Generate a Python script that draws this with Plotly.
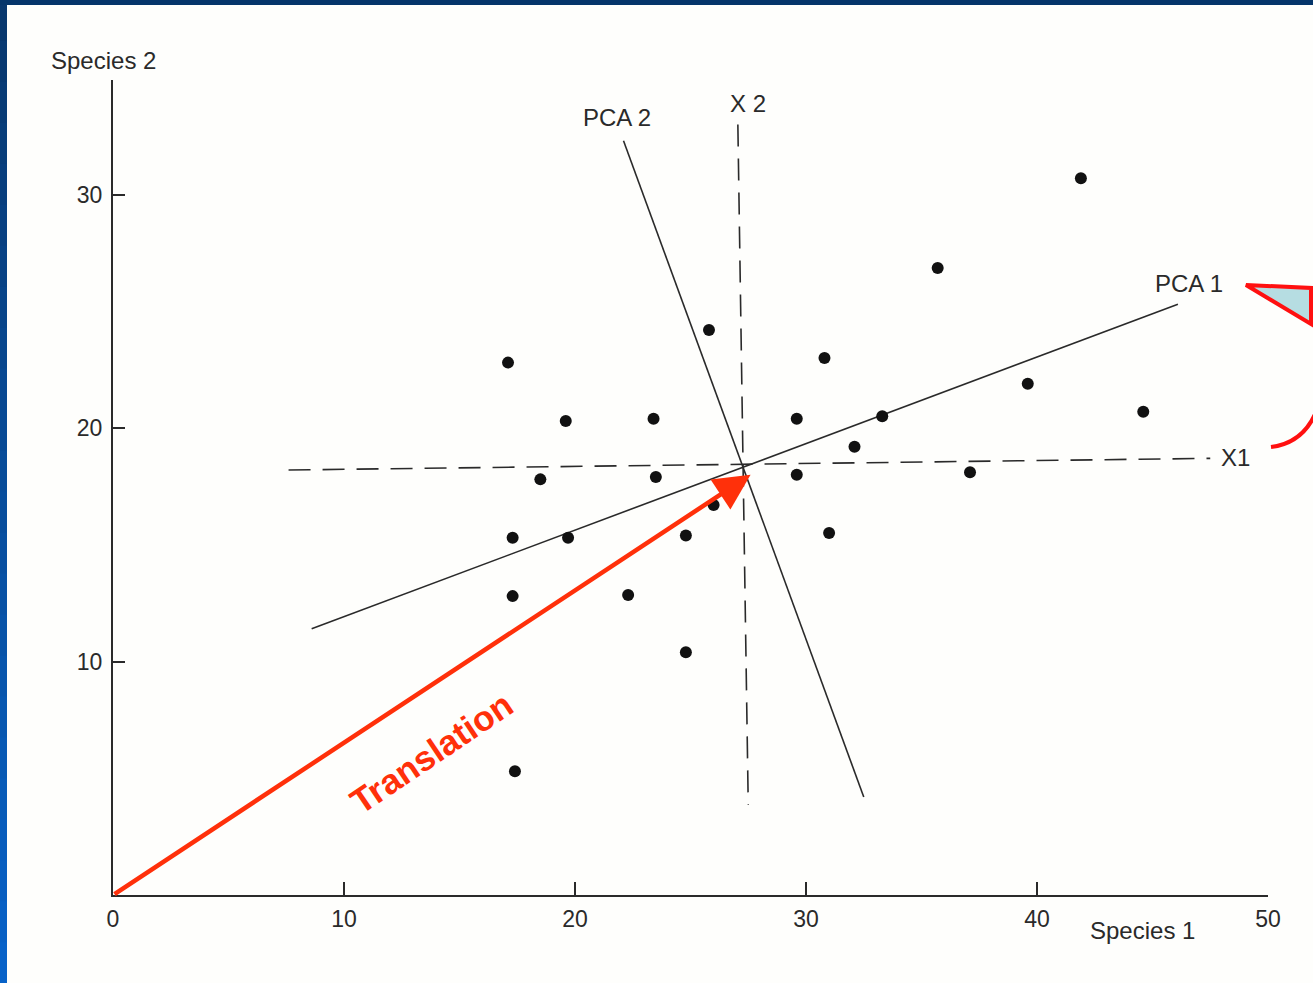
import plotly.graph_objects as go

# ---------------- data ----------------
species1 = [17.1, 19.6, 23.4, 18.5, 23.5, 17.3, 19.7, 24.8, 26.0, 25.8, 17.3, 22.3, 24.8, 17.4,
            30.8, 29.6, 29.6, 32.1, 33.3, 31.0, 35.7, 41.9, 39.6, 44.6, 37.1]
species2 = [22.8, 20.3, 20.4, 17.8, 17.9, 15.3, 15.3, 15.4, 16.7, 24.2, 12.8, 12.85, 10.4, 5.3,
            23.0, 20.4, 18.0, 19.2, 20.5, 15.5, 26.85, 30.7, 21.9, 20.7, 18.1]

arrow_tip = (27.6, 18.0)
pca1_x = [8.6, 46.1]
pca1_y = [11.4, 25.3]
pca2_x = [22.1, 32.5]
pca2_y = [32.3, 4.2]
x1_x = [7.6, 47.5]
x1_y = [18.2, 18.7]
x2_x = [27.05, 27.5]
x2_y = [33.0, 3.85]

x_ticks = [0, 10, 20, 30, 40, 50]
y_ticks = [10, 20, 30]

# ---------------- layout helpers ----------------
W, H = 1313, 983
L, R, T, B = 113, 45, 80, 88
PW, PH = W - L - R, H - T - B


def px(xp):
    return (xp - L) / PW


def py(yp):
    return (H - B - yp) / PH


ink = "#2a2a2a"
red = "#ff300a"
font = "Liberation Sans, Arial, sans-serif"

fig = go.Figure()

fig.add_trace(go.Scatter(x=x1_x, y=x1_y, mode="lines",
                         line=dict(color=ink, width=1.6, dash="22px,12px"), hoverinfo="skip"))
fig.add_trace(go.Scatter(x=x2_x, y=x2_y, mode="lines",
                         line=dict(color=ink, width=1.6, dash="22px,12px"), hoverinfo="skip"))
fig.add_trace(go.Scatter(x=pca1_x, y=pca1_y, mode="lines",
                         line=dict(color=ink, width=1.6), hoverinfo="skip"))
fig.add_trace(go.Scatter(x=pca2_x, y=pca2_y, mode="lines",
                         line=dict(color=ink, width=1.6), hoverinfo="skip"))
fig.add_trace(go.Scatter(x=species1, y=species2, mode="markers",
                         marker=dict(color="#111111", size=12)))

# translation arrow
fig.add_annotation(x=arrow_tip[0], y=arrow_tip[1], ax=0, ay=0, axref="x", ayref="y",
                   xref="x", yref="y", text="", showarrow=True,
                   arrowcolor=red, arrowwidth=4.5, arrowhead=2, arrowsize=1.6, standoff=0)
fig.add_annotation(x=13.8, y=6.1, xref="x", yref="y", text="<b>Translation</b>",
                   showarrow=False, textangle=-34,
                   font=dict(family=font, size=35, color=red))

lab = dict(family=font, size=24, color=ink)
fig.add_annotation(x=21.8, y=33.3, text="PCA 2", showarrow=False, font=lab)
fig.add_annotation(x=27.5, y=33.9, text="X 2", showarrow=False, font=lab)
fig.add_annotation(x=46.6, y=26.2, text="PCA 1", showarrow=False, font=lab)
fig.add_annotation(x=47.9, y=18.75, text="X1", showarrow=False, xanchor="left", font=lab)
fig.add_annotation(x=px(103), y=py(61), xref="paper", yref="paper", text="Species 2",
                   showarrow=False, xanchor="center", yanchor="middle", font=lab)
fig.add_annotation(x=px(1142), y=py(930), xref="paper", yref="paper", text="Species 1",
                   showarrow=False, xanchor="center", yanchor="middle", font=lab)

shapes = []
# red rotation glyph on the right edge
shapes.append(dict(type="path", xref="paper", yref="paper",
                   path=f"M {px(1246)},{py(285)} L {px(1311)},{py(288)} L {px(1311)},{py(324)} Z",
                   fillcolor="#b6dde2", line=dict(color="#ff1010", width=4)))
shapes.append(dict(type="path", xref="paper", yref="paper",
                   path=f"M {px(1271)},{py(447)} Q {px(1303)},{py(443)} {px(1316)},{py(412)}",
                   line=dict(color="#ff1010", width=4)))
# blue slide border
n = 24
c0 = (0x08, 0x37, 0x6d)
c1 = (0x07, 0x62, 0xc8)
for i in range(n):
    t = i / (n - 1)
    c = tuple(int(round(a + (b - a) * t)) for a, b in zip(c0, c1))
    y0p = i * H / n
    y1p = (i + 1) * H / n + 2
    shapes.append(dict(type="rect", xref="paper", yref="paper",
                       x0=px(-2), x1=px(7), y0=py(y1p), y1=py(y0p),
                       fillcolor="rgb(%d,%d,%d)" % c, line=dict(width=0)))
shapes.append(dict(type="rect", xref="paper", yref="paper",
                   x0=px(-2), x1=px(W + 2), y0=py(5), y1=py(-2),
                   fillcolor="#05356a", line=dict(width=0)))

fig.update_layout(
    width=W, height=H,
    margin=dict(l=L, r=R, t=T, b=B),
    paper_bgcolor="#fefefc", plot_bgcolor="#fefefc",
    showlegend=False,
    shapes=shapes,
    xaxis=dict(range=[0, 50], tickvals=x_ticks, ticks="inside", ticklen=13, tickwidth=1.6,
               tickcolor=ink, showline=True, linecolor=ink, linewidth=2, showgrid=False,
               zeroline=False, ticklabelstandoff=2,
               tickfont=dict(family=font, size=23, color=ink)),
    yaxis=dict(range=[0, (H - B - T) / 23.35], tickvals=y_ticks, ticks="inside", ticklen=12,
               tickwidth=1.6, tickcolor=ink, showline=True, linecolor=ink, linewidth=2,
               showgrid=False, zeroline=False, ticklabelstandoff=4,
               tickfont=dict(family=font, size=23, color=ink)),
)

fig.write_html("out.html", config={"displayModeBar": False},
               post_script="document.body.style.margin='0';document.body.style.overflow='hidden';")
